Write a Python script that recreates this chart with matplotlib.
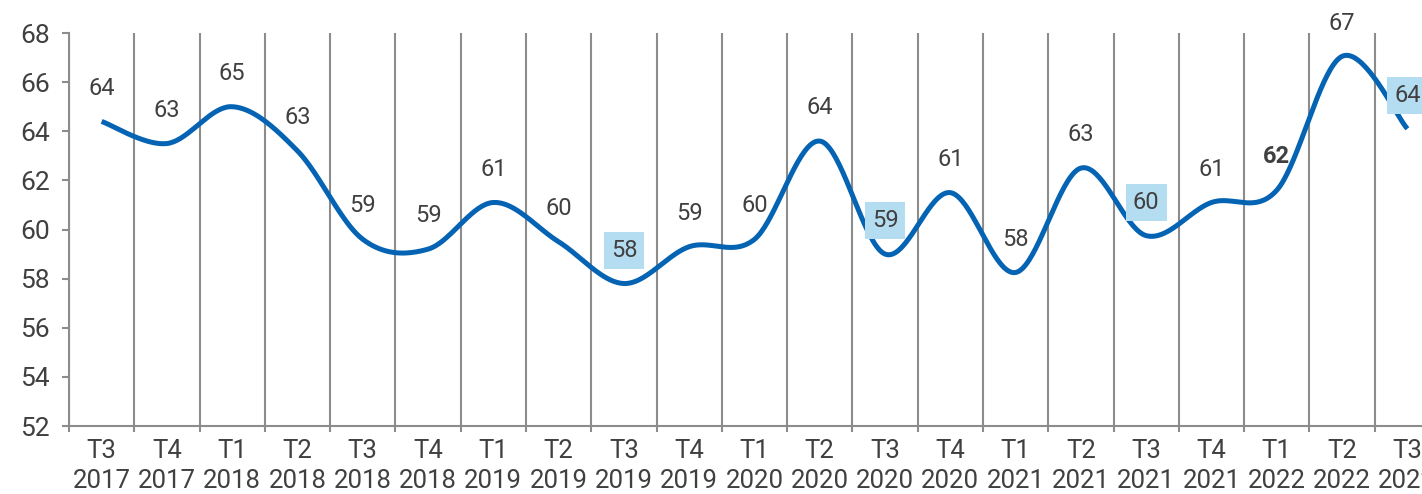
import numpy as np
import matplotlib.pyplot as plt

plt.rcParams['font.family'] = ['Roboto', 'DejaVu Sans']

# Données
trimestres = ['T3', 'T4', 'T1', 'T2', 'T3', 'T4', 'T1', 'T2', 'T3', 'T4', 'T1',
              'T2', 'T3', 'T4', 'T1', 'T2', 'T3', 'T4', 'T1', 'T2', 'T3']
annees = ['2017', '2017', '2018', '2018', '2018', '2018', '2019', '2019', '2019', '2019', '2020',
          '2020', '2020', '2020', '2021', '2021', '2021', '2021', '2022', '2022', '2022']
valeurs = [64.4, 63.5, 65.0, 63.2, 59.6, 59.2, 61.1, 59.5, 57.8, 59.3, 59.6,
           63.6, 59.0, 61.5, 58.25, 62.5, 59.75, 61.1, 61.6, 67.05, 64.1]
etiquettes = [64, 63, 65, 63, 59, 59, 61, 60, 58, 59, 60,
              64, 59, 61, 58, 63, 60, 61, 62, 67, 64]
encadres = [8, 12, 16, 20]   # libellés sur fond bleu
gras = [18]

couleur_ligne = '#0563B3'
couleur_grille = '#8C8C8C'
couleur_texte = '#404040'

x = np.arange(len(valeurs))
y = np.array(valeurs, dtype=float)

# Courbe lissée (Catmull-Rom, comme le lissage Excel)
p = np.concatenate([[y[0]], y, [y[-1]]])
px = np.concatenate([[x[0]], x, [x[-1]]])
xs, ys = [], []
t = np.linspace(0, 1, 40)
for i in range(1, len(p) - 2):
    for arr, out in ((px, xs), (p, ys)):
        p0, p1, p2, p3 = arr[i - 1], arr[i], arr[i + 1], arr[i + 2]
        c1 = p1 + (p2 - p0) / 6
        c2 = p2 - (p3 - p1) / 6
        out.extend((1 - t) ** 3 * p1 + 3 * (1 - t) ** 2 * t * c1 + 3 * (1 - t) * t ** 2 * c2 + t ** 3 * p2)

fig = plt.figure(figsize=(14.22, 4.94), dpi=100)
ax = fig.add_axes([69 / 1422, 68 / 494, 1371 / 1422, 393 / 494])

ax.plot(xs, ys, color=couleur_ligne, lw=3.6, solid_capstyle='butt', zorder=3)

for i, (v, e) in enumerate(zip(valeurs, etiquettes)):
    kw = dict(ha='center', va='center', fontsize=17, color=couleur_texte, zorder=4)
    if i in gras:
        kw['fontweight'] = 'bold'
    if i in encadres:
        kw['bbox'] = dict(boxstyle='square,pad=0.3', fc='#B4DDF2', ec='none')
    ax.annotate(str(e), (i, v), xytext=(0, 24), textcoords='offset points', **kw)

ax.set_xlim(-0.5, len(valeurs) - 0.5)
ax.set_ylim(52, 68)
ax.set_yticks(np.arange(52, 69, 2))
ax.set_xticks(x)
ax.set_xticklabels([f'{a}\n{b}' for a, b in zip(trimestres, annees)], linespacing=1.35)
ax.set_xticks(np.arange(-0.5, len(valeurs), 1), minor=True)

ax.tick_params(axis='x', which='major', length=0, pad=9, labelsize=18.5, labelcolor=couleur_texte)
ax.tick_params(axis='x', which='minor', length=4.5, color=couleur_grille, width=1.5)
ax.tick_params(axis='y', length=5, color=couleur_grille, width=1.5, labelsize=19,
               labelcolor=couleur_texte, pad=9)
ax.grid(True, axis='x', which='minor', color=couleur_grille, lw=1.5)

for s in ['top', 'right']:
    ax.spines[s].set_visible(False)
for s in ['left', 'bottom']:
    ax.spines[s].set_color(couleur_grille)
    ax.spines[s].set_linewidth(1.5)

fig.savefig('out.png', dpi=100)
